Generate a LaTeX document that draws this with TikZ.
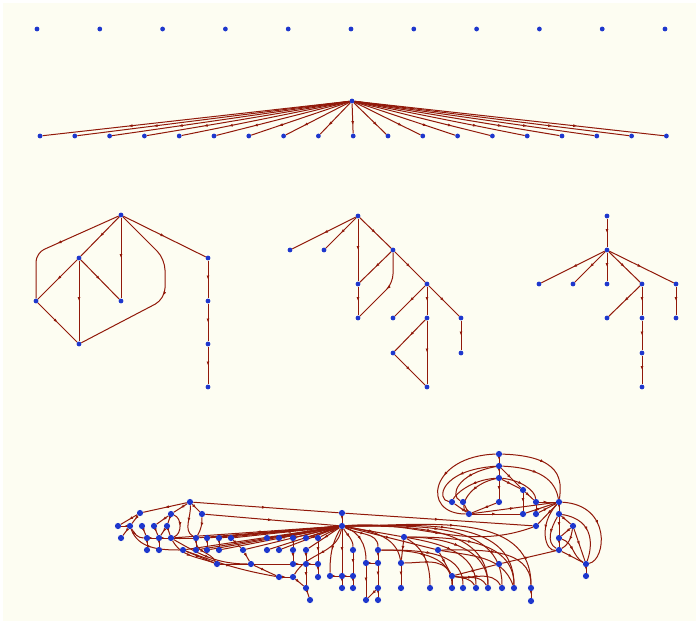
\documentclass[tikz,border=0pt]{standalone}
\usetikzlibrary{arrows.meta,decorations.markings}
\definecolor{plotbg}{RGB}{253,253,242}
\definecolor{vtxblue}{RGB}{30,55,205}
\definecolor{linkred}{RGB}{145,25,10}
\pgfdeclarelayer{bg}
\pgfdeclarelayer{links}
\pgfsetlayers{bg,links,main}

\begin{document}
\begin{tikzpicture}[x=1pt,y=-1pt,
  vtx/.style={circle, fill=vtxblue, inner sep=0pt, minimum size=4.8pt},
  bvtx/.style={circle, fill=vtxblue, inner sep=0pt, minimum size=6.2pt},
  dirlink/.style={draw=linkred, line width=1pt, postaction={decorate},
    decoration={markings, mark=at position #1 with {\arrow{Latex[length=4pt,width=3pt]}}}},
  dirlink/.default=0.5]
\begin{pgfonlayer}{bg}
\fill[white] (0,0) rectangle (699,624);
\fill[plotbg] (3,3) rectangle (696,621);
\end{pgfonlayer}

% Row 1: empty graph
\foreach \i in {0,...,10}
  \node[vtx] (p\i) at ({37+62.8*\i},29) {};

% Row 2: star
\node[vtx] (hub) at (352,101) {};
\foreach \i in {0,...,18}
  \node[vtx] (s\i) at ({40+34.8*\i},136) {};
\begin{pgfonlayer}{links}
\foreach \i in {0,...,18}
  \draw[dirlink=0.72] (hub) -- (s\i);
\end{pgfonlayer}

% Row 3, left graph
\node[vtx] (a0) at (121,215) {};
\node[vtx] (a1) at (79,258) {};
\node[vtx] (a2) at (36,301) {};
\node[vtx] (a3) at (121,301) {};
\node[vtx] (a4) at (79,344) {};
\node[vtx] (a5) at (208,258) {};
\node[vtx] (a6) at (208,301) {};
\node[vtx] (a7) at (208,344) {};
\node[vtx] (a8) at (208,387) {};
\begin{pgfonlayer}{links}
\foreach \u/\v in {a0/a1,a0/a3,a0/a5,a1/a2,a1/a3,a1/a4,a2/a4,a5/a6,a6/a7,a7/a8}
  \draw[dirlink] (\u) -- (\v);
\draw[dirlink, rounded corners=9pt] (a0) -- (36,253) -- (a2);
\draw[dirlink, rounded corners=11pt] (a0) -- (165,259) -- (165,299) -- (a4);
\end{pgfonlayer}

% Row 3, middle graph
\node[vtx] (b0) at (358,216) {};
\node[vtx] (b1) at (290,250) {};
\node[vtx] (b2) at (324,250) {};
\node[vtx] (b3) at (393,250) {};
\node[vtx] (b4) at (358,284) {};
\node[vtx] (b5) at (358,318) {};
\node[vtx] (b6) at (427,284) {};
\node[vtx] (b7) at (393,318) {};
\node[vtx] (b8) at (427,318) {};
\node[vtx] (b9) at (461,318) {};
\node[vtx] (b10) at (393,353) {};
\node[vtx] (b11) at (427,387) {};
\node[vtx] (b12) at (461,353) {};
\begin{pgfonlayer}{links}
\foreach \u/\v in {b0/b1,b0/b2,b0/b4,b4/b5,b0/b3,b3/b4,b3/b6,b6/b7,b6/b8,b6/b9,b8/b10,b10/b11,b8/b11,b9/b12}
  \draw[dirlink] (\u) -- (\v);
\draw[dirlink, rounded corners=9pt] (b3) -- (393,283) -- (b5);
\end{pgfonlayer}

% Row 3, right graph
\node[vtx] (c0) at (607,216) {};
\node[vtx] (c1) at (607,250) {};
\node[vtx] (c2) at (539,284) {};
\node[vtx] (c3) at (573,284) {};
\node[vtx] (c4) at (607,284) {};
\node[vtx] (c5) at (642,284) {};
\node[vtx] (c6) at (676,284) {};
\node[vtx] (c7) at (607,318) {};
\node[vtx] (c8) at (642,318) {};
\node[vtx] (c9) at (676,318) {};
\node[vtx] (c10) at (642,353) {};
\node[vtx] (c11) at (642,387) {};
\begin{pgfonlayer}{links}
\foreach \u/\v in {c0/c1,c1/c2,c1/c3,c1/c4,c1/c5,c1/c6,c5/c7,c5/c8,c8/c10,c10/c11,c6/c9}
  \draw[dirlink] (\u) -- (\v);
\end{pgfonlayer}

% Row 4: large graph
\foreach \n/\x/\y in {L1/190/502,L2/140/513,L3/171/514,L4/202/514,L5/118/526,L6/130/526,
    L7/142/526,L8/154/526,L9/167/526,L10/121/538,L11/147/538,L12/159/538,L13/171/538,
    L14/196/538,L15/207/538,L16/219/538,L17/231/538,L18/147/550,L19/159/550,L20/183/550,
    L21/196/550,L22/207/550,L23/219/550,L24/243/550,L25/217/564,L26/251/564}
  \node[bvtx] (\n) at (\x,\y) {};
\foreach \n/\x/\y in {M1/267/538,M2/279/538,M3/293/538,M4/306/538,M5/318/538,M6/267/550,
    M7/279/550,M8/293/550,M9/306/550,M10/293/564,M11/306/564,M12/318/564,M13/279/577,
    M14/293/577,M15/318/577,M16/306/588,M17/310/600,H0/342/513,H/342/526,M18/404/537,
    M19/353/550,M20/378/550,M21/438/550,M22/366/563,M23/378/563,M24/401/563,M25/330/576,
    M26/342/576,M27/353/576,M28/342/588,M29/353/588,M30/378/588,M31/401/588,M32/366/600,
    M33/378/600}
  \node[bvtx] (\n) at (\x,\y) {};
\foreach \n/\x/\y in {R1/499/454,R2/499/466,R3/499/478,R4/523/490,R5/452/502,R6/463/502,
    R7/499/502,R8/536/502,R9/559/502,R10/469/514,R11/523/514,R12/536/514,R13/559/514,
    R14/536/526,R15/573/526,R16/559/538,R17/559/550,R18/586/564,R19/586/576,
    Q1/499/564,Q2/452/576,Q3/430/588,Q4/452/588,Q5/463/588,Q6/476/588,Q7/488/588,
    Q8/502/588,Q9/514/588,Q10/531/588,Q11/531/601}
  \node[bvtx] (\n) at (\x,\y) {};

\begin{pgfonlayer}{links}
% straight links
\foreach \u/\v in {L1/L2,L1/L3,L1/L4,L1/H0,L2/L5,L2/L6,L3/L8,L3/L9,L6/L5,L6/L10,L7/L11,
    L8/L12,L9/L12,L9/L13,L11/L12,L12/L13,L13/L14,L11/L18,L12/L19,L14/L21,L15/L22,
    L16/L23,L17/L24,L20/L25,L25/M10,L26/M13,L24/L26,L4/H,H0/H,H0/R14,H/M26,M26/M28,
    M27/M29,M25/M26,M26/M27,M5/M12,M9/M11,M10/M11,M11/M12,M11/M16,M16/M17,M12/M15,
    M13/M14,M3/M8,M8/M10,M22/M23,M23/M30,M30/M32,M30/M33,M24/M31,M19/M27,M20/M23,
    M18/M24,M21/Q2,Q2/Q1,Q1/R17,Q2/Q4,Q10/Q11,M14/M16,M22/M32}
  \draw[dirlink] (\u) -- (\v);
% fan from H
\foreach \v in {L13,L14,L15,L16,L17,M1,M2,M3,M4,M5,L20,L21,L22,L23,L24,M6,M7,M9,M18,M21}
  \draw[dirlink] (H) -- (\v);
% curved links, left part
\draw[dirlink] (L1) to[out=-85,in=150] (L14);
\draw[dirlink] (L3) to[out=-20,in=20] (L13);
\draw[dirlink] (L4) to[out=-90,in=60] (L14);
\draw[dirlink] (L6) to[out=-60,in=180] (L11);
\draw[dirlink] (L6) to[out=-70,in=180] (L20);
\draw[dirlink] (L13) to[out=-60,in=160] (L25);
\draw[dirlink] (L14) to[out=-90,in=120] (L25);
\draw[dirlink] (L20) to[out=-20,in=170] (M13);
\draw[dirlink] (L13) to[out=-30,in=180] (L26);
% curved links from H
\draw[dirlink] (H) to[out=-60,in=90] (M19);
\draw[dirlink] (H) to[out=-30,in=90] (M20);
\draw[dirlink] (H) to[out=-20,in=90] (M22);
\draw[dirlink] (H) to[out=-10,in=100] (M24);
\draw[dirlink] (H) to[out=-120,in=90] (M25);
\draw[dirlink] (H) to[out=-100,in=60] (M14);
\draw[dirlink] (H) to[out=0,in=90] (Q10);
\draw[dirlink] (H) to[out=0,in=90] (Q9);
\draw[dirlink] (H) to[out=0,in=90] (Q8);
\draw[dirlink] (H) to[out=0,in=90] (Q7);
\draw[dirlink] (H) to[out=5,in=200] (R14);
\draw[dirlink] (M18) to[out=0,in=90] (Q7);
\draw[dirlink] (M18) to[out=-10,in=90] (Q6);
\draw[dirlink] (M18) to[out=-30,in=90] (Q3);
\draw[dirlink] (M18) to[out=0,in=90] (Q9);
\draw[dirlink] (M20) to[out=0,in=90] (Q5);
\draw[dirlink] (M20) to[out=0,in=90] (Q4);
\draw[dirlink] (M24) to[out=0,in=120] (Q2);
\draw[dirlink] (Q2) to[out=-10,in=120] (Q6);
\draw[dirlink] (Q2) to[out=-10,in=120] (Q7);
\draw[dirlink] (Q2) to[out=-10,in=120] (Q8);
\draw[dirlink] (M21) to[out=-10,in=110] (Q9);
\draw[dirlink] (M21) to[out=0,in=90] (Q10);
% right cluster
\foreach \u/\v in {R1/R2,R2/R3,R3/R7,R2/R4,R3/R4,R4/R11,R4/R8,R8/R9,R11/R9,R12/R9,
    R10/R11,R10/R5,R10/R6,R7/R10,R9/R13,R9/R14,R13/R15,R13/R16,R15/R16,R15/R18,
    R16/R17,R17/R18,R18/R19,R10/R9,R12/R8}
  \draw[dirlink] (\u) -- (\v);
\draw[dirlink] (R1) .. controls (430,456) and (420,514) .. (R10);
\draw[dirlink] (R1) .. controls (562,456) and (562,480) .. (R9);
\draw[dirlink] (R2) .. controls (440,470) and (436,500) .. (R5);
\draw[dirlink] (R2) .. controls (456,474) and (450,496) .. (R6);
\draw[dirlink] (R2) .. controls (548,468) and (556,486) .. (R9);
\draw[dirlink] (R3) .. controls (470,484) and (458,506) .. (R10);
\draw[dirlink] (R3) .. controls (470,480) and (455,495) .. (R5);
\draw[dirlink] (R3) .. controls (520,480) and (535,490) .. (R8);
\draw[dirlink] (R9) .. controls (612,505) and (606,560) .. (R18);
\draw[dirlink] (R13) .. controls (596,520) and (592,548) .. (R18);
\draw[dirlink] (R9) .. controls (538,525) and (545,552) .. (R17);
\draw[dirlink] (R13) to[out=-120,in=150] (R17);
\draw[dirlink] (R15) to[out=-100,in=30] (R17);
\draw[dirlink] (R16) to[out=-20,in=150] (R18);
\end{pgfonlayer}
\end{tikzpicture}
\end{document}
